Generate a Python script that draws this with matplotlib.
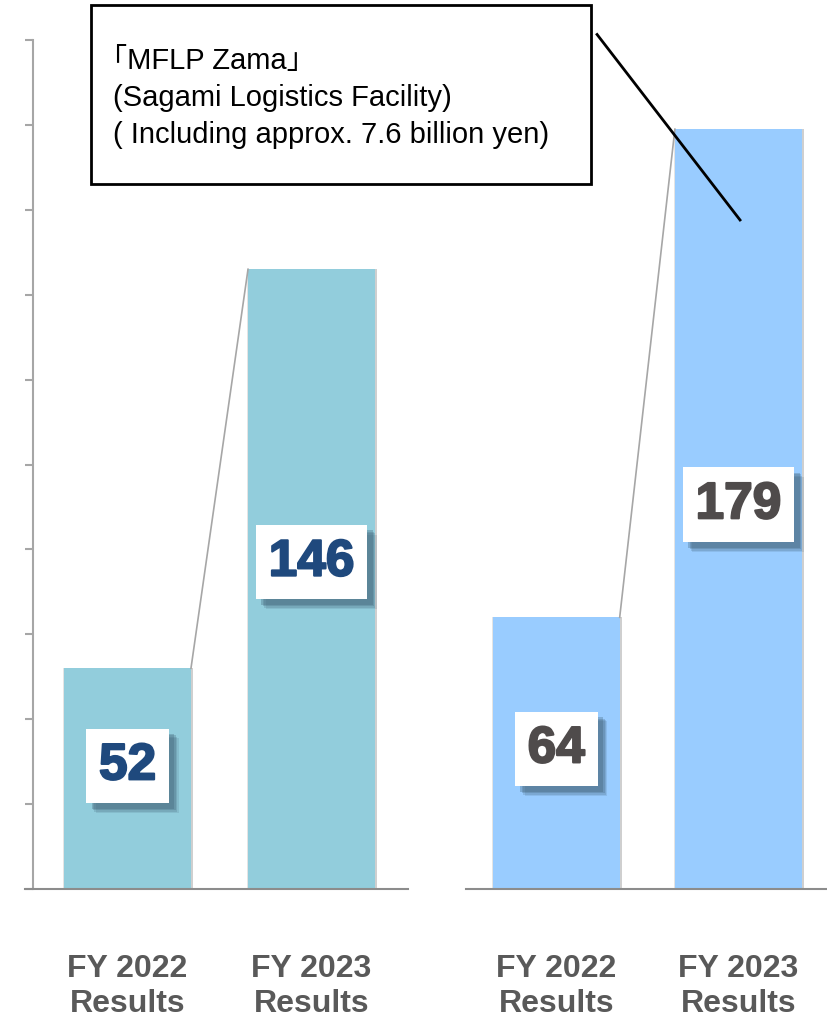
import matplotlib
matplotlib.use("Agg")
import matplotlib.pyplot as plt
import matplotlib.patheffects as pe
from matplotlib.patches import Rectangle

# FY results, two panels of two bars each
categories = ["FY 2022\nResults", "FY 2023\nResults", "FY 2022\nResults", "FY 2023\nResults"]
values = [52, 146, 64, 179]
bar_colors = ["#92CDDC", "#92CDDC", "#99CCFF", "#99CCFF"]
label_colors = ["#1F497D", "#1F497D", "#4F4B4B", "#4F4B4B"]
note_lines = ["「MFLP Zama」", "(Sagami Logistics Facility)", "( Including approx. 7.6 billion yen)"]

W, H = 828, 1020
fig = plt.figure(figsize=(W / 100, H / 100), dpi=100)
ax = fig.add_axes([33 / W, 130 / H, 795 / W, 849 / H])

x = [0, 1, 2.33, 3.32]
width = 0.69
label_lift = [3, 4, 1, 1]

# soft edge shading behind each bar
ax.bar([p + 0.012 for p in x], values, width=width, color="#cfcfcf", zorder=1)
ax.bar([p - 0.006 for p in x], values, width=width, color="#e4e4e4", zorder=1)
ax.bar(x, values, width=width, color=bar_colors, zorder=2)

# connector from the FY2022 bar top to the FY2023 bar top in each panel
for i in (0, 2):
    ax.plot([x[i] + width / 2, x[i + 1] - width / 2], [values[i], values[i + 1]],
            color="#a6a6a6", lw=1.2, zorder=3)

# value boxes with a blurred drop shadow
shadow = [pe.withSimplePatchShadow(offset=(o, -o), shadow_rgbFace="#3f5f74", alpha=a)
          for o, a in ((7, 0.15), (6, 0.2), (5, 0.25), (4, 0.3))]
for xi, v, c, lift in zip(x, values, label_colors, label_lift):
    t = ax.text(xi, v / 2 + lift, str(v), ha="center", va="center",
                fontsize=37, fontweight="bold", family="Liberation Sans", color=c,
                bbox=dict(boxstyle="square,pad=0.25", fc="white", ec="none"), zorder=5)
    t.set_path_effects([pe.withStroke(linewidth=1.5, foreground=c)])
    t.get_bbox_patch().set_path_effects(shadow + [pe.Normal()])

# baselines of the two panels
ax.plot([-0.557, 1.524], [0, 0], color="#8c8c8c", lw=1.5, clip_on=False, zorder=4)
ax.plot([1.84, 3.807], [0, 0], color="#8c8c8c", lw=1.5, clip_on=False, zorder=4)

ax.set_xlim(-0.5136, 3.8071)
ax.set_ylim(0, 200)
ax.set_yticks(range(0, 201, 20))
ax.set_yticklabels([])
ax.tick_params(axis="y", direction="out", length=6, width=1.5, color="#a6a6a6")
ax.set_xticks(x)
ax.set_xticklabels(categories, fontsize=23, fontweight="bold", family="Liberation Sans",
                   color="#595959", linespacing=1.24)
ax.tick_params(axis="x", length=0, pad=46)
for s in ("top", "right", "bottom"):
    ax.spines[s].set_visible(False)
ax.spines["left"].set_color("#a6a6a6")
ax.spines["left"].set_linewidth(1.5)

# callout box and its leader line
fig.patches.append(Rectangle((91 / W, 1 - 185 / H), 500 / W, 179 / H, transform=fig.transFigure,
                             fill=False, ec="black", lw=2, zorder=6))
note_font = ["Liberation Sans", "Noto Sans CJK JP"]
for k, (line, lx) in enumerate(zip(note_lines, (98, 113, 113))):
    fig.text(lx / W, 1 - (61 + 37 * k) / H, line, ha="left", va="center", fontsize=21,
             family=note_font, color="black")
ax.plot([2.552, 3.329], [201.3, 157.6], color="black", lw=2, clip_on=False, zorder=6)

fig.savefig("out.png", dpi=100)
